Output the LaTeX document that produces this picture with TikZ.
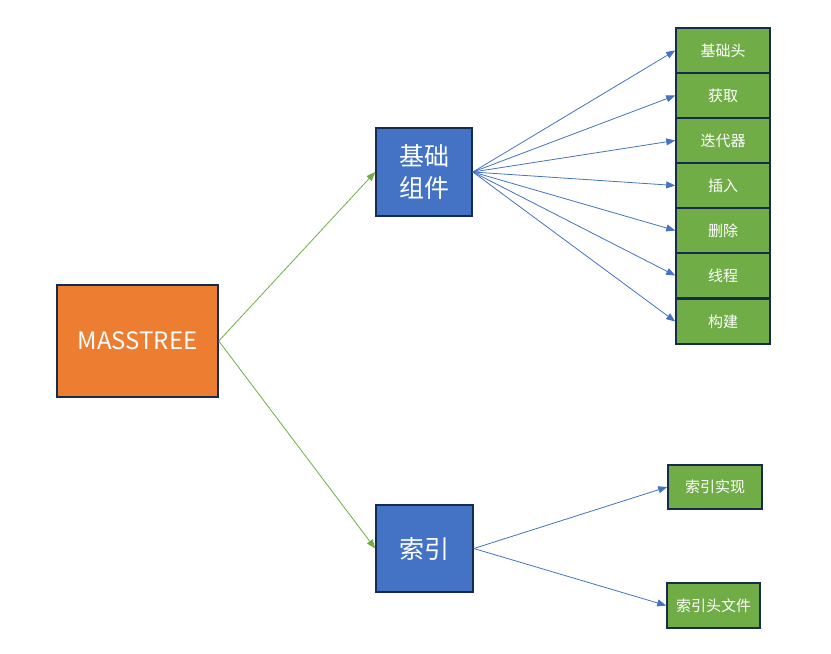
\documentclass[tikz,border=0pt]{standalone}
\usepackage{fontspec}
\newfontfamily\cjk{Noto Sans CJK SC}
\usetikzlibrary{arrows.meta}
\definecolor{boxorange}{HTML}{ED7D31}
\definecolor{boxblue}{HTML}{4472C4}
\definecolor{boxgreen}{HTML}{70AD47}
\definecolor{boxline}{HTML}{172B4D}
\tikzset{
  basebox/.style={draw=boxline, line width=1.6pt, inner sep=0pt, text=white, font=\cjk},
  rootbox/.style={basebox, fill=boxorange, minimum width=161pt, minimum height=112pt, font=\cjk\fontsize{24}{28}\selectfont},
  midbox/.style={basebox, fill=boxblue, minimum width=96pt, minimum height=88pt, align=center, font=\cjk\fontsize{25}{32}\selectfont},
  leafbox/.style={basebox, fill=boxgreen, minimum width=94pt, minimum height=45pt, font=\cjk\fontsize{15}{18}\selectfont},
  greenarrow/.style={draw=boxgreen, line width=0.8pt, -{Triangle[length=9pt,width=7pt]}},
  bluearrow/.style={draw=boxblue, line width=0.8pt, -{Triangle[length=9pt,width=7pt]}}
}
\begin{document}
\begin{tikzpicture}[x=1pt,y=-1pt]
\useasboundingbox (0,0) rectangle (831,654);
% main boxes
\node[rootbox] (masstree) at (137.5,341) {MASSTREE};
\node[midbox] (jczj) at (424,172) {基础\\组件};
\node[midbox, minimum width=97pt, minimum height=87pt] (suoyin) at (424.5,548.5) {索引};
% leaves of the basic components
\node[leafbox] (jct) at (723,50.5) {基础头};
\node[leafbox] (huoqu) at (723,95.5) {获取};
\node[leafbox] (ddq) at (723,140.5) {迭代器};
\node[leafbox] (charu) at (723,185.5) {插入};
\node[leafbox] (shanchu) at (723,230.5) {删除};
\node[leafbox] (xiancheng) at (723,275.5) {线程};
\node[leafbox] (goujian) at (723,321.5) {构建};
% leaves of the index
\node[leafbox, minimum height=44pt] (syss) at (715,487) {索引实现};
\node[leafbox, minimum width=93pt] (sytwj) at (713.5,605.5) {索引头文件};
% connectors
\draw[greenarrow] (masstree.east) -- (jczj.west);
\draw[greenarrow] (masstree.east) -- (suoyin.west);
\foreach \leaf in {jct,huoqu,ddq,charu,shanchu,xiancheng,goujian}
  \draw[bluearrow] (jczj.east) -- (\leaf.west);
\draw[bluearrow] (suoyin.east) -- (syss.west);
\draw[bluearrow] (suoyin.east) -- (sytwj.west);
\end{tikzpicture}
\end{document}
